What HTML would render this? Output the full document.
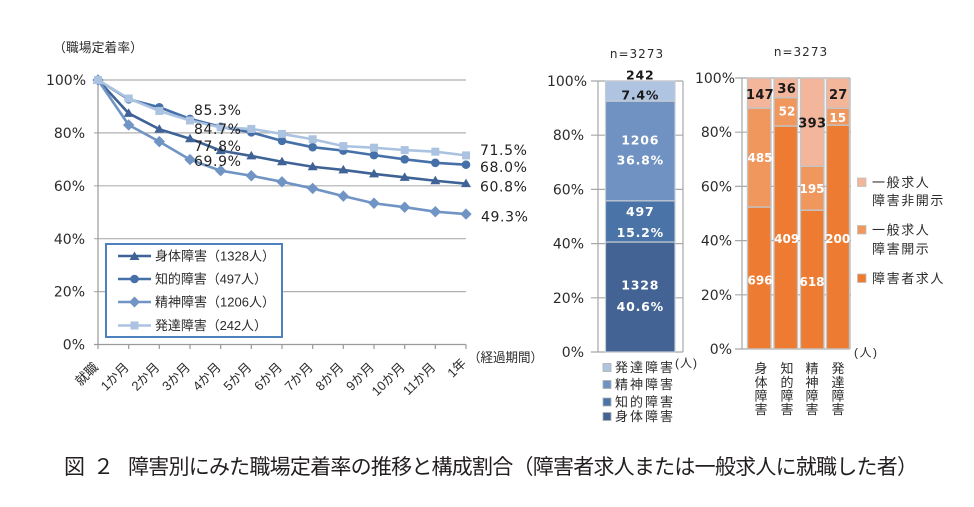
<!DOCTYPE html>
<html><head><meta charset="utf-8">
<style>
html,body{margin:0;padding:0;background:#fff;}
svg{display:block;}
.ax{font-family:"DejaVu Sans","Liberation Sans",sans-serif;font-size:14px;fill:#2b2b2b;}
.jp{font-family:"Liberation Sans","Noto Sans CJK JP",sans-serif;fill:#2b2b2b;}
.dl{font-family:"DejaVu Sans","Liberation Sans",sans-serif;font-size:14px;fill:#222;letter-spacing:0.6px;}
.bl{font-family:"DejaVu Sans","Liberation Sans",sans-serif;font-weight:bold;font-size:12.5px;letter-spacing:0.8px;text-anchor:middle;}
</style></head>
<body>
<svg width="974" height="507" viewBox="0 0 974 507" xmlns="http://www.w3.org/2000/svg">
<defs>
<marker id="mt" markerWidth="12" markerHeight="12" refX="6" refY="6.5" markerUnits="userSpaceOnUse" orient="0"><polygon points="6,1.5 1,10 11,10" fill="#3f6396"/></marker>
<marker id="mc" markerWidth="12" markerHeight="12" refX="6" refY="6" markerUnits="userSpaceOnUse" orient="0"><circle cx="6" cy="6" r="4.3" fill="#4670a8"/></marker>
<marker id="md" markerWidth="14" markerHeight="14" refX="7" refY="7" markerUnits="userSpaceOnUse" orient="0"><polygon points="7,1.3 12.7,7 7,12.7 1.3,7" fill="#7094c3"/></marker>
<marker id="ms" markerWidth="12" markerHeight="12" refX="6" refY="6" markerUnits="userSpaceOnUse" orient="0"><rect x="2" y="2" width="8" height="8" fill="#abc3e0"/></marker>
</defs>

<!-- ===== Line chart ===== -->
<text class="jp" x="53" y="52" font-size="13" textLength="90" lengthAdjust="spacingAndGlyphs">（職場定着率）</text>
<g stroke="#b0b0b0" stroke-width="1.2">
<line x1="94" y1="80" x2="466" y2="80"/>
<line x1="94" y1="132.9" x2="466" y2="132.9"/>
<line x1="94" y1="185.8" x2="466" y2="185.8"/>
<line x1="94" y1="238.7" x2="466" y2="238.7"/>
<line x1="94" y1="291.6" x2="466" y2="291.6"/>
</g>
<g stroke="#9a9a9a" stroke-width="1.2">
<line x1="98" y1="80" x2="98" y2="344.5"/>
<line x1="94" y1="344.5" x2="466" y2="344.5"/>
<line x1="98" y1="344.5" x2="98" y2="349"/>
<line x1="128.67" y1="344.5" x2="128.67" y2="349"/>
<line x1="159.33" y1="344.5" x2="159.33" y2="349"/>
<line x1="190" y1="344.5" x2="190" y2="349"/>
<line x1="220.67" y1="344.5" x2="220.67" y2="349"/>
<line x1="251.33" y1="344.5" x2="251.33" y2="349"/>
<line x1="282" y1="344.5" x2="282" y2="349"/>
<line x1="312.67" y1="344.5" x2="312.67" y2="349"/>
<line x1="343.33" y1="344.5" x2="343.33" y2="349"/>
<line x1="374" y1="344.5" x2="374" y2="349"/>
<line x1="404.67" y1="344.5" x2="404.67" y2="349"/>
<line x1="435.33" y1="344.5" x2="435.33" y2="349"/>
<line x1="466" y1="344.5" x2="466" y2="349"/>
</g>
<g class="ax" text-anchor="end">
<text x="86" y="85">100%</text>
<text x="85" y="138">80%</text>
<text x="85" y="191">60%</text>
<text x="85" y="244">40%</text>
<text x="85" y="296.5">20%</text>
<text x="85" y="349.5">0%</text>
</g>

<g fill="none" stroke-width="2.6" stroke-linejoin="round">
<polyline stroke="#3f6396" marker-start="url(#mt)" marker-mid="url(#mt)" marker-end="url(#mt)" points="98,80 128.67,113.33 159.33,129.2 190,138.72 220.67,150.62 251.33,155.91 282,161.73 312.67,166.76 343.33,169.93 374,173.9 404.67,177.34 435.33,180.77 466,183.68"/>
<polyline stroke="#4670a8" marker-start="url(#mc)" marker-mid="url(#mc)" marker-end="url(#mc)" points="98,80 128.67,99.31 159.33,107.24 190,118.88 220.67,126.82 251.33,132.37 282,140.83 312.67,147.18 343.33,150.62 374,155.12 404.67,159.35 435.33,162.79 466,164.64"/>
<polyline stroke="#7094c3" marker-start="url(#md)" marker-mid="url(#md)" marker-end="url(#md)" points="98,80 128.67,124.96 159.33,141.63 190,159.61 220.67,170.72 251.33,175.75 282,181.83 312.67,188.44 343.33,196.12 374,203.26 404.67,207.22 435.33,211.72 466,214.1"/>
<polyline stroke="#abc3e0" marker-start="url(#ms)" marker-mid="url(#ms)" marker-end="url(#ms)" points="98,80 128.67,98.51 159.33,110.95 190,120.47 220.67,127.35 251.33,128.93 282,133.96 312.67,139.25 343.33,146.12 374,147.71 404.67,150.09 435.33,151.68 466,155.38"/>
</g>

<g class="dl">
<text x="194" y="115">85.3%</text>
<text x="194" y="134">84.7%</text>
<text x="194" y="151">77.8%</text>
<text x="194" y="166">69.9%</text>
<text x="480" y="155">71.5%</text>
<text x="480" y="172">68.0%</text>
<text x="480" y="191.5">60.8%</text>
<text x="481" y="221.5">49.3%</text>
</g>

<!-- legend -->
<rect x="106" y="244" width="176" height="93" fill="#fff" stroke="#4f81bd" stroke-width="2"/>
<g stroke-width="2.6">
<line x1="118" y1="256" x2="151" y2="256" stroke="#3f6396"/>
<line x1="118" y1="279" x2="151" y2="279" stroke="#4670a8"/>
<line x1="118" y1="302" x2="151" y2="302" stroke="#7094c3"/>
<line x1="118" y1="325.5" x2="151" y2="325.5" stroke="#abc3e0"/>
</g>
<polygon points="134.5,251.5 129.5,260 139.5,260" fill="#3f6396"/>
<circle cx="134.5" cy="279" r="4.3" fill="#4670a8"/>
<polygon points="134.5,296.5 140,302 134.5,307.5 129,302" fill="#7094c3"/>
<rect x="130.5" y="321.5" width="8" height="8" fill="#abc3e0"/>
<g class="jp" font-size="13">
<text x="155" y="260.5" textLength="120">身体障害（1328人）</text>
<text x="155" y="283.5" textLength="112">知的障害（497人）</text>
<text x="155" y="306.5" textLength="120">精神障害（1206人）</text>
<text x="155" y="330" textLength="112">発達障害（242人）</text>
</g>

<!-- x labels -->
<g class="jp" font-size="13" text-anchor="end">
<text transform="translate(99,368) rotate(-45)">就職</text>
<text transform="translate(129.67,368) rotate(-45)">1か月</text>
<text transform="translate(160.33,368) rotate(-45)">2か月</text>
<text transform="translate(191,368) rotate(-45)">3か月</text>
<text transform="translate(221.67,368) rotate(-45)">4か月</text>
<text transform="translate(252.33,368) rotate(-45)">5か月</text>
<text transform="translate(283,368) rotate(-45)">6か月</text>
<text transform="translate(313.67,368) rotate(-45)">7か月</text>
<text transform="translate(344.33,368) rotate(-45)">8か月</text>
<text transform="translate(375,368) rotate(-45)">9か月</text>
<text transform="translate(405.67,368) rotate(-45)">10か月</text>
<text transform="translate(436.33,368) rotate(-45)">11か月</text>
<text transform="translate(467,364) rotate(-45)">1年</text>
</g>
<text class="jp" x="468" y="362" font-size="13" textLength="75" lengthAdjust="spacingAndGlyphs">（経過期間）</text>

<!-- ===== Bar chart 1 ===== -->
<text class="ax" x="637" y="58" text-anchor="middle" style="font-size:12px;letter-spacing:1px">n=3273</text>
<g stroke="#a8a8a8" stroke-width="1.2">
<line x1="591" y1="81" x2="683" y2="81"/>
<line x1="591" y1="135.2" x2="683" y2="135.2"/>
<line x1="591" y1="189.4" x2="683" y2="189.4"/>
<line x1="591" y1="243.6" x2="683" y2="243.6"/>
<line x1="591" y1="297.8" x2="683" y2="297.8"/>
<line x1="591" y1="352" x2="683" y2="352"/>
<line x1="598" y1="81" x2="598" y2="352"/>
<line x1="683" y1="81" x2="683" y2="352"/>
</g>
<g stroke="#c6ccd4" stroke-width="1.2">
<rect x="605.5" y="242" width="69.5" height="110" fill="#426393"/>
<rect x="605.5" y="200.8" width="69.5" height="41.2" fill="#4a74a8"/>
<rect x="605.5" y="101.1" width="69.5" height="99.7" fill="#6f92c2"/>
<rect x="605.5" y="81" width="69.5" height="20.1" fill="#aec4e0"/>
</g>
<g class="ax" text-anchor="end">
<text x="587" y="86">100%</text>
<text x="584" y="140">80%</text>
<text x="584" y="194.5">60%</text>
<text x="584" y="248.5">40%</text>
<text x="584" y="303">20%</text>
<text x="584" y="357">0%</text>
</g>
<g class="bl">
<text x="640.3" y="79.5" fill="#1a1a1a">242</text>
<text x="640.3" y="99.5" fill="#1a1a1a">7.4%</text>
<text x="640.3" y="144.5" fill="#fff">1206</text>
<text x="640.3" y="164.5" fill="#fff">36.8%</text>
<text x="640.3" y="216" fill="#fff">497</text>
<text x="640.3" y="237" fill="#fff">15.2%</text>
<text x="640.3" y="289.5" fill="#fff">1328</text>
<text x="640.3" y="311" fill="#fff">40.6%</text>
</g>
<g stroke="#b0b0b0" stroke-width="0.8">
<rect x="603" y="363.5" width="8" height="8" fill="#aec4e0"/>
<rect x="603" y="380.5" width="8" height="8" fill="#6f92c2"/>
<rect x="603" y="398" width="8" height="8" fill="#4a74a8"/>
<rect x="603" y="412.5" width="8" height="8" fill="#426393"/>
</g>
<g class="jp" font-size="13" style="letter-spacing:2px">
<text x="615" y="372">発達障害</text>
<text x="615" y="389">精神障害</text>
<text x="615" y="406.5">知的障害</text>
<text x="615" y="421">身体障害</text>
</g>
<text class="jp" x="675" y="367" font-size="12" style="letter-spacing:1px">(人)</text>

<!-- ===== Bar chart 2 ===== -->
<text class="ax" x="801" y="56" text-anchor="middle" style="font-size:12px;letter-spacing:1px">n=3273</text>
<g stroke="#a8a8a8" stroke-width="1.2">
<line x1="735" y1="78" x2="850" y2="78"/>
<line x1="735" y1="132.2" x2="851" y2="132.2"/>
<line x1="735" y1="186.4" x2="851" y2="186.4"/>
<line x1="735" y1="240.6" x2="851" y2="240.6"/>
<line x1="735" y1="294.8" x2="851" y2="294.8"/>
<line x1="735" y1="349" x2="850" y2="349"/>
<line x1="742" y1="78" x2="742" y2="349"/>
<line x1="850" y1="78" x2="850" y2="349"/>
</g>
<g stroke="#c4c4c4" stroke-width="1.4">
<rect x="747.5" y="207" width="23.5" height="142" fill="#ed7b31"/>
<rect x="747.5" y="108.1" width="23.5" height="98.9" fill="#f0975e"/>
<rect x="747.5" y="78" width="23.5" height="30.1" fill="#f4b69b"/>
<rect x="774" y="126" width="23.5" height="223" fill="#ed7b31"/>
<rect x="774" y="97.6" width="23.5" height="28.4" fill="#f0975e"/>
<rect x="774" y="78" width="23.5" height="19.6" fill="#f4b69b"/>
<rect x="800.5" y="210.2" width="23.5" height="138.8" fill="#ed7b31"/>
<rect x="800.5" y="166.3" width="23.5" height="43.9" fill="#f0975e"/>
<rect x="800.5" y="78" width="23.5" height="88.3" fill="#f4b69b"/>
<rect x="826.5" y="125.1" width="23" height="223.9" fill="#ed7b31"/>
<rect x="826.5" y="108.3" width="23" height="16.8" fill="#f0975e"/>
<rect x="826.5" y="78" width="23" height="30.3" fill="#f4b69b"/>
</g>
<g class="ax" text-anchor="end">
<text x="735" y="83">100%</text>
<text x="732" y="137">80%</text>
<text x="732" y="191.5">60%</text>
<text x="732" y="245.5">40%</text>
<text x="732" y="300">20%</text>
<text x="732" y="354">0%</text>
</g>
<g class="bl" style="font-size:13px;letter-spacing:0.3px">
<text x="760" y="99" fill="#1a1a1a">147</text>
<text x="786.7" y="93" fill="#1a1a1a">36</text>
<text x="812.3" y="127.5" fill="#1a1a1a">393</text>
<text x="838.3" y="99" fill="#1a1a1a">27</text>
</g>
<g class="bl" style="font-size:12px;letter-spacing:0px">
<text x="760" y="162" fill="#fff">485</text>
<text x="787" y="115.5" fill="#fff">52</text>
<text x="812" y="193" fill="#fff">195</text>
<text x="837.7" y="122" fill="#fff">15</text>
<text x="760" y="284.5" fill="#fff">696</text>
<text x="786.7" y="243" fill="#fff">409</text>
<text x="812" y="286" fill="#fff">618</text>
<text x="837.7" y="243" fill="#fff">200</text>
</g>
<!-- vertical category labels -->
<g class="jp" font-size="13" text-anchor="middle">
<text x="761" y="373">身</text><text x="761" y="387">体</text><text x="761" y="400.5">障</text><text x="761" y="414">害</text>
<text x="787" y="373">知</text><text x="787" y="387">的</text><text x="787" y="400.5">障</text><text x="787" y="414">害</text>
<text x="812" y="373">精</text><text x="812" y="387">神</text><text x="812" y="400.5">障</text><text x="812" y="414">害</text>
<text x="838" y="373">発</text><text x="838" y="387">達</text><text x="838" y="400.5">障</text><text x="838" y="414">害</text>
</g>
<text class="jp" x="854" y="356.5" font-size="12" style="letter-spacing:1.5px">(人)</text>
<!-- legend 2 -->
<g stroke="#c0c0c0" stroke-width="0.8">
<rect x="857.5" y="178" width="8.5" height="8.5" fill="#f4b69b"/>
<rect x="857.5" y="225.5" width="8.5" height="8.5" fill="#f0975e"/>
<rect x="857.5" y="274" width="8.5" height="8.5" fill="#ed7b31"/>
</g>
<g class="jp" font-size="13" style="letter-spacing:1.6px">
<text x="872" y="187">一般求人</text>
<text x="872" y="205">障害非開示</text>
<text x="872" y="234.5">一般求人</text>
<text x="872" y="253.5">障害開示</text>
<text x="872" y="283">障害者求人</text>
</g>

<!-- caption -->
<g class="jp" font-size="21" style="fill:#231f20">
<text x="64" y="474">図</text>
<text x="93" y="474">２</text>
<text x="128" y="474" textLength="790">障害別にみた職場定着率の推移と構成割合（障害者求人または一般求人に就職した者）</text>
</g>
</svg>
</body></html>
